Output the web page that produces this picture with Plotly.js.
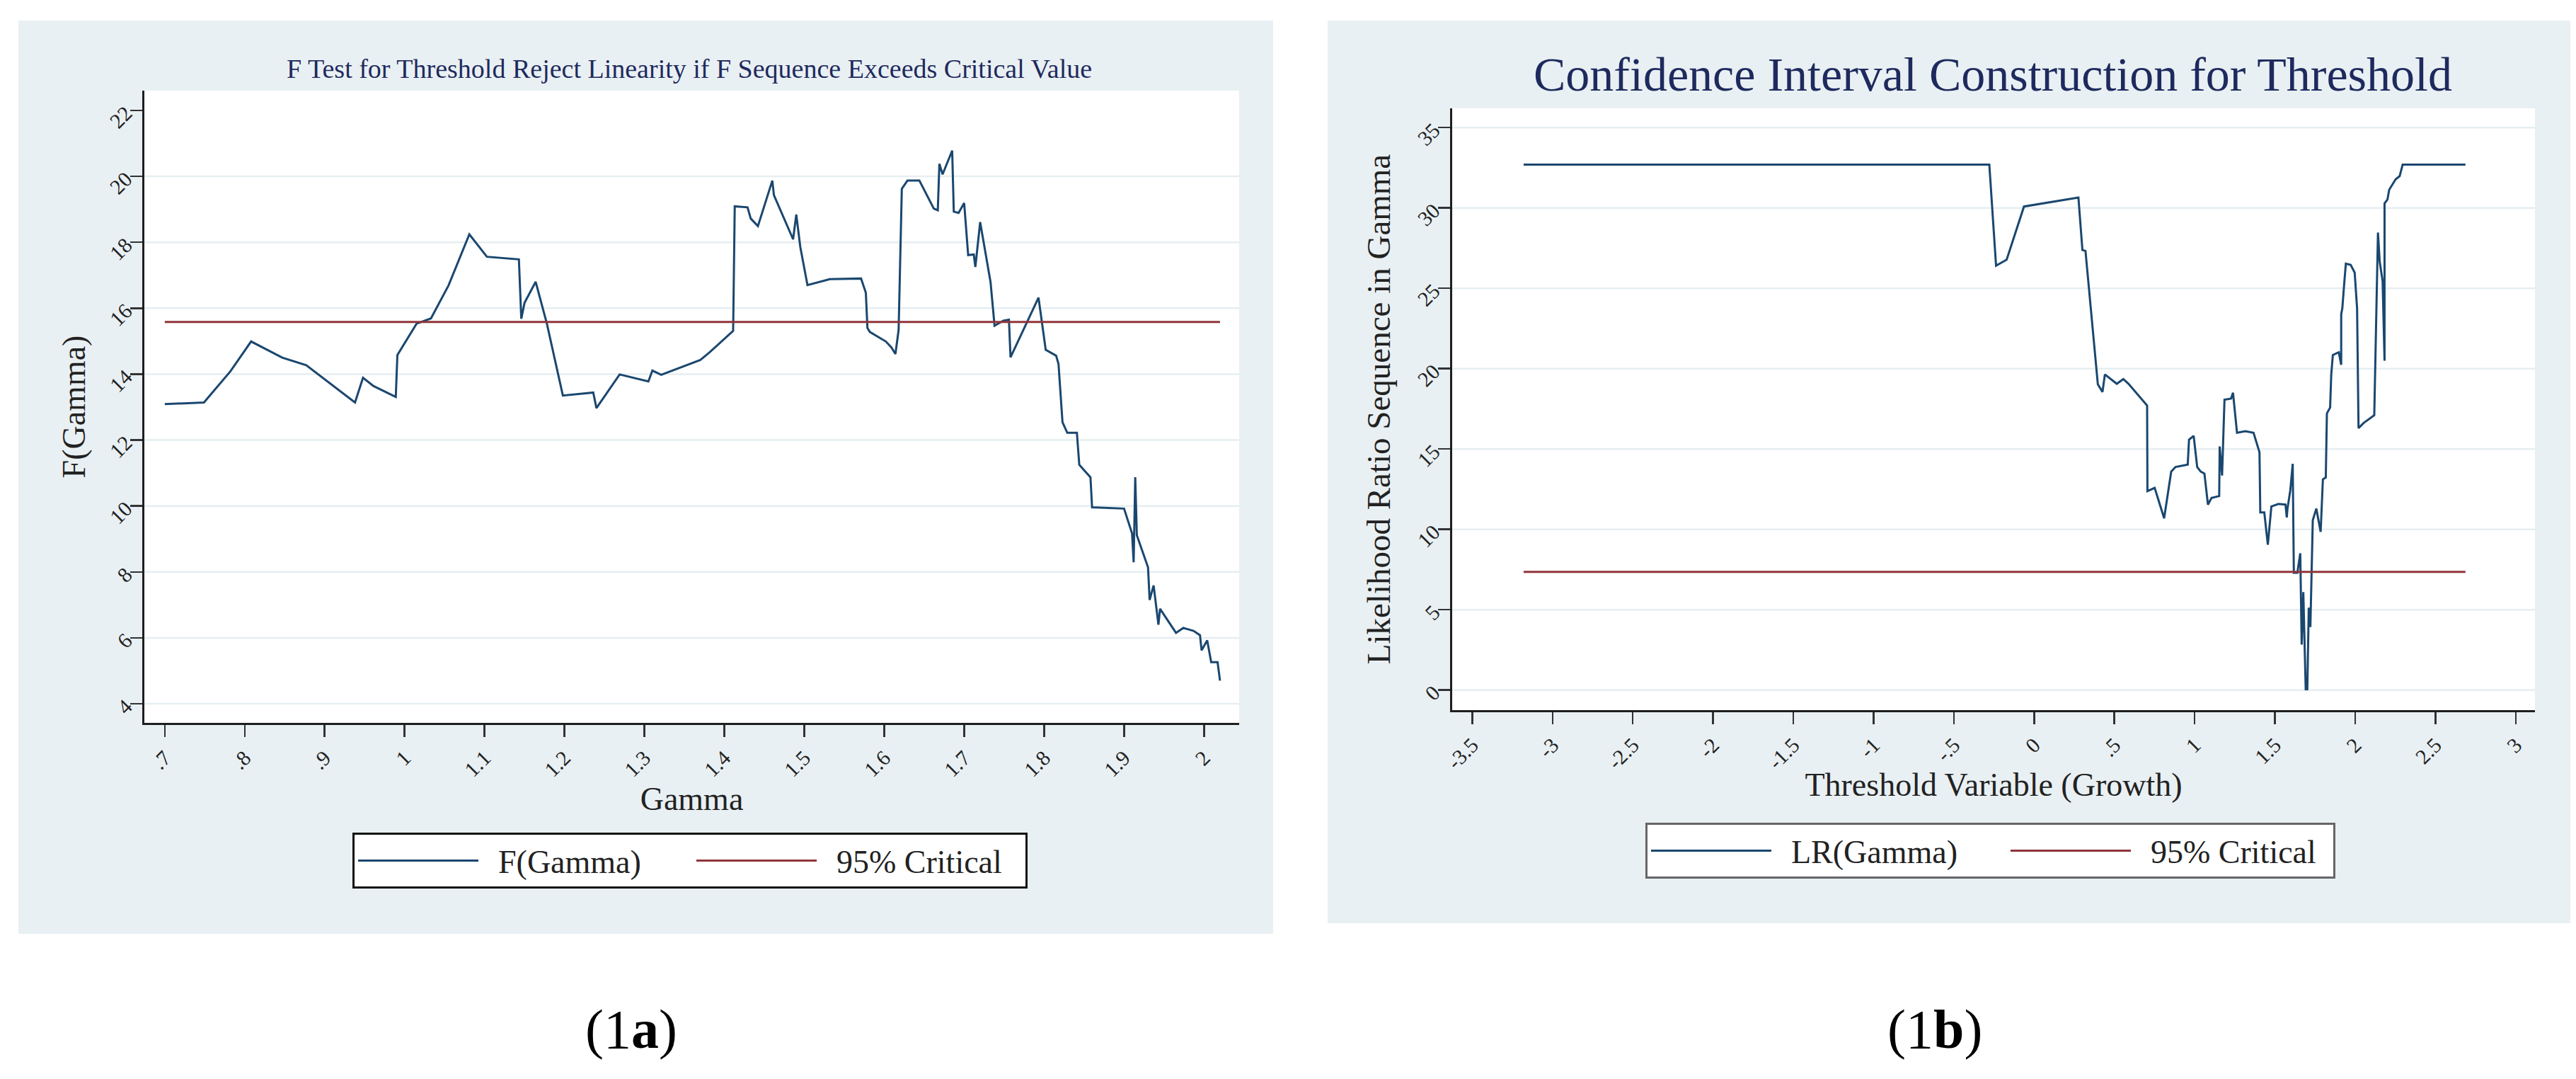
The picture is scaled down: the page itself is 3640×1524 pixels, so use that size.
<!DOCTYPE html>
<html><head><meta charset="utf-8">
<script src="https://cdn.plot.ly/plotly-3.0.1.min.js"></script>
<style>html,body{margin:0;padding:0;background:#fff;} #chart{width:3640px;height:1524px;}</style>
</head><body><div id="chart"></div>
<script>
// ---------- Data ----------
const gammaF = [0.700,0.749,0.782,0.808,0.847,0.877,0.938,0.948,0.961,0.989,0.991,1.015,1.033,1.055,1.081,1.103,1.143,1.146,1.150,1.164,1.178,1.198,1.236,1.240,1.269,1.305,1.310,1.321,1.370,1.381,1.411,1.413,1.429,1.433,1.442,1.460,1.462,1.486,1.490,1.495,1.504,1.532,1.571,1.577,1.579,1.582,1.602,1.609,1.614,1.618,1.622,1.629,1.644,1.662,1.667,1.669,1.673,1.685,1.687,1.693,1.700,1.705,1.712,1.714,1.720,1.733,1.738,1.749,1.756,1.758,1.793,1.802,1.815,1.818,1.823,1.829,1.841,1.844,1.858,1.860,1.900,1.910,1.912,1.914,1.916,1.930,1.932,1.937,1.943,1.945,1.965,1.974,1.987,1.995,1.997,2.004,2.009,2.017,2.020];
const fValues = [13.09,13.14,14.08,14.99,14.50,14.27,13.14,13.89,13.64,13.31,14.58,15.53,15.69,16.69,18.24,17.56,17.48,15.68,16.16,16.80,15.53,13.35,13.44,12.97,13.99,13.78,14.11,13.98,14.43,14.65,15.31,19.09,19.06,18.72,18.49,19.87,19.43,18.09,18.84,17.86,16.70,16.88,16.90,16.47,15.40,15.28,14.99,14.81,14.61,15.34,19.62,19.87,19.87,19.02,18.97,20.38,20.06,20.78,18.93,18.89,19.19,17.61,17.63,17.25,18.61,16.79,15.47,15.62,15.65,14.51,16.32,14.74,14.56,14.31,12.54,12.22,12.22,11.25,10.87,9.96,9.92,9.17,8.29,10.87,9.11,8.14,7.15,7.59,6.40,6.88,6.15,6.30,6.21,6.08,5.62,5.92,5.26,5.26,4.70];
const fCritical = 15.58;

const growthLR = [-3.18,-0.279,-0.237,-0.171,-0.063,0.276,0.301,0.320,0.397,0.426,0.441,0.515,0.556,0.588,0.704,0.706,0.751,0.810,0.854,0.881,0.957,0.965,0.994,1.016,1.038,1.061,1.083,1.105,1.153,1.156,1.171,1.186,1.227,1.239,1.264,1.316,1.367,1.404,1.409,1.434,1.456,1.478,1.522,1.566,1.574,1.578,1.596,1.611,1.618,1.640,1.658,1.667,1.677,1.692,1.702,1.711,1.721,1.736,1.758,1.785,1.799,1.817,1.824,1.844,1.851,1.861,1.898,1.913,1.913,1.920,1.932,1.942,1.972,1.997,2.012,2.021,2.053,2.119,2.130,2.142,2.153,2.171,2.183,2.183,2.201,2.212,2.252,2.277,2.296,2.687];
const lrValues = [32.70,32.70,26.41,26.78,30.09,30.65,27.38,27.33,19.03,18.55,19.64,19.06,19.35,19.06,17.70,12.38,12.58,10.69,13.59,13.88,14.03,15.58,15.82,13.88,13.59,13.47,11.54,11.95,12.07,15.16,13.35,18.07,18.14,18.50,16.01,16.11,16.01,14.80,11.05,11.05,9.04,11.42,11.58,11.54,10.74,11.26,12.43,14.08,7.30,7.30,8.51,2.83,6.10,0.05,0.05,5.13,3.92,10.57,11.29,9.84,13.11,13.23,17.22,17.58,19.64,20.85,21.02,20.24,23.39,23.75,25.32,26.53,26.46,25.98,23.75,16.30,16.62,17.10,22.54,28.47,26.65,25.45,20.49,30.28,30.52,31.13,31.78,31.98,32.70,32.70];
const lrCritical = 7.35;

const seriesNamesA = ['F(Gamma)', '95% Critical'];
const seriesNamesB = ['LR(Gamma)', '95% Critical'];

const fXTickVals = [0.7,0.8,0.9,1.0,1.1,1.2,1.3,1.4,1.5,1.6,1.7,1.8,1.9,2.0];
const fXTickText = ['.7','.8','.9','1','1.1','1.2','1.3','1.4','1.5','1.6','1.7','1.8','1.9','2'];
const fYTickVals = [4,6,8,10,12,14,16,18,20,22];
const fGridVals = [4,6,8,10,12,14,16,18,20];

const lrXTickVals = [-3.5,-3,-2.5,-2,-1.5,-1,-0.5,0,0.5,1,1.5,2,2.5,3];
const lrXTickText = ['-3.5','-3','-2.5','-2','-1.5','-1','-.5','0','.5','1','1.5','2','2.5','3'];
const lrYTickVals = [0,5,10,15,20,25,30,35];

const titleA = 'F Test for Threshold Reject Linearity if F Sequence Exceeds Critical Value';
const titleB = 'Confidence Interval Construction for Threshold';

// ---------- Styling ----------
const W = 3640, H = 1524;
const px = v => v / W, py = v => 1 - v / H;
const SERIF = 'Liberation Serif, Times New Roman, serif';
const BLUE = '#1a476f', RED = '#90353b';
const PANEL = '#e9f0f3', GRID = '#e6eef1';
const GAP = '\u00a0\u00a0';

const fMin = Math.min(...gammaF), fMax = Math.max(...gammaF);
const lMin = Math.min(...growthLR), lMax = Math.max(...growthLR);

const traces = [
  {x: gammaF, y: fValues, type: 'scatter', mode: 'lines', name: GAP + seriesNamesA[0],
   line: {color: BLUE, width: 3}, xaxis: 'x', yaxis: 'y', legend: 'legend', legendwidth: 293},
  {x: [fMin, fMax], y: [fCritical, fCritical], type: 'scatter', mode: 'lines', name: GAP + seriesNamesA[1],
   line: {color: RED, width: 3}, xaxis: 'x', yaxis: 'y', legend: 'legend', legendwidth: 285},
  {x: growthLR, y: lrValues, type: 'scatter', mode: 'lines', name: GAP + seriesNamesB[0],
   line: {color: BLUE, width: 3}, xaxis: 'x2', yaxis: 'y2', legend: 'legend2', legendwidth: 323},
  {x: [lMin, lMax], y: [lrCritical, lrCritical], type: 'scatter', mode: 'lines', name: GAP + seriesNamesB[1],
   line: {color: RED, width: 3}, xaxis: 'x2', yaxis: 'y2', legend: 'legend2', legendwidth: 276}
];

const axisCommon = {
  showgrid: false, zeroline: false, showline: true, linecolor: '#1e1e1e', linewidth: 3,
  ticks: 'outside', ticklen: 17, tickwidth: 2.5, tickcolor: '#333',
  tickangle: -45, tickfont: {family: SERIF, size: 30, color: '#222'}, fixedrange: true
};

const shapes = [
  {type: 'rect', xref: 'paper', yref: 'paper', x0: px(26), x1: px(1799), y0: py(1319), y1: py(29),
   fillcolor: PANEL, line: {width: 0}, layer: 'below'},
  {type: 'rect', xref: 'paper', yref: 'paper', x0: px(1876), x1: px(3632), y0: py(1304), y1: py(29),
   fillcolor: PANEL, line: {width: 0}, layer: 'below'},
  {type: 'rect', xref: 'x domain', yref: 'y domain', x0: 0, x1: 1, y0: 0, y1: 1,
   fillcolor: '#ffffff', line: {width: 0}, layer: 'below'},
  {type: 'rect', xref: 'x2 domain', yref: 'y2 domain', x0: 0, x1: 1, y0: 0, y1: 1,
   fillcolor: '#ffffff', line: {width: 0}, layer: 'below'}
];
fGridVals.forEach(v => shapes.push({type: 'line', xref: 'x domain', yref: 'y', x0: 0, x1: 1, y0: v, y1: v,
  line: {color: GRID, width: 2.5}, layer: 'below'}));
lrYTickVals.forEach(v => shapes.push({type: 'line', xref: 'x2 domain', yref: 'y2', x0: 0, x1: 1, y0: v, y1: v,
  line: {color: GRID, width: 2.5}, layer: 'below'}));

const legendCommon = {
  xanchor: 'left', yanchor: 'top', orientation: 'h', bgcolor: '#ffffff', borderwidth: 3,
  font: {family: SERIF, size: 46, color: '#222'}, itemwidth: 170, itemclick: false
};

const layout = {
  width: W, height: H,
  margin: {l: 0, r: 0, t: 0, b: 0, pad: 0},
  paper_bgcolor: '#ffffff', plot_bgcolor: 'rgba(0,0,0,0)',
  font: {family: SERIF, color: '#222'},
  showlegend: true,
  xaxis: Object.assign({}, axisCommon, {
    domain: [px(204), px(1751)], anchor: 'y', range: [0.6745, 2.044],
    tickmode: 'array', tickvals: fXTickVals, ticktext: fXTickText,
    title: {text: 'Gamma', font: {family: SERIF, size: 46, color: '#222'}, standoff: 1}
  }),
  yaxis: Object.assign({}, axisCommon, {
    domain: [1 - 1021 / H, 1 - 128 / H], anchor: 'x', range: [3.42, 22.6],
    tickmode: 'array', tickvals: fYTickVals,
    title: {text: 'F(Gamma)', font: {family: SERIF, size: 46, color: '#222'}, standoff: 14}
  }),
  xaxis2: Object.assign({}, axisCommon, {
    domain: [px(2052), px(3582)], anchor: 'y2', range: [-3.625, 3.12],
    tickmode: 'array', tickvals: lrXTickVals, ticktext: lrXTickText,
    title: {text: 'Threshold Variable (Growth)', font: {family: SERIF, size: 46, color: '#222'}, standoff: 1}
  }),
  yaxis2: Object.assign({}, axisCommon, {
    domain: [1 - 1003 / H, 1 - 153 / H], anchor: 'x2', range: [-1.25, 36.2],
    tickmode: 'array', tickvals: lrYTickVals,
    title: {text: 'Likelihood Ratio Sequence in Gamma', font: {family: SERIF, size: 47, color: '#222'}, standoff: 17}
  }),
  legend: Object.assign({}, legendCommon, {x: px(498), y: py(1176), bordercolor: '#111'}),
  legend2: Object.assign({}, legendCommon, {x: px(2325), y: py(1162), bordercolor: '#666'}),
  shapes: shapes,
  annotations: [
    {text: titleA, xref: 'paper', yref: 'paper', x: px(974), y: py(97), xanchor: 'center', yanchor: 'middle',
     showarrow: false, font: {family: SERIF, size: 38, color: '#1e2a5e'}},
    {text: titleB, xref: 'paper', yref: 'paper', x: px(2816), y: py(105), xanchor: 'center', yanchor: 'middle',
     showarrow: false, font: {family: SERIF, size: 68, color: '#1e2a5e'}},
    {text: '(1<b>a</b>)', xref: 'paper', yref: 'paper', x: px(892), y: py(1453), xanchor: 'center', yanchor: 'middle',
     showarrow: false, font: {family: SERIF, size: 78, color: '#000'}},
    {text: '(1<b>b</b>)', xref: 'paper', yref: 'paper', x: px(2734), y: py(1453), xanchor: 'center', yanchor: 'middle',
     showarrow: false, font: {family: SERIF, size: 78, color: '#000'}}
  ]
};

Plotly.newPlot('chart', traces, layout, {staticPlot: true, displayModeBar: false});
</script>
</body></html>
